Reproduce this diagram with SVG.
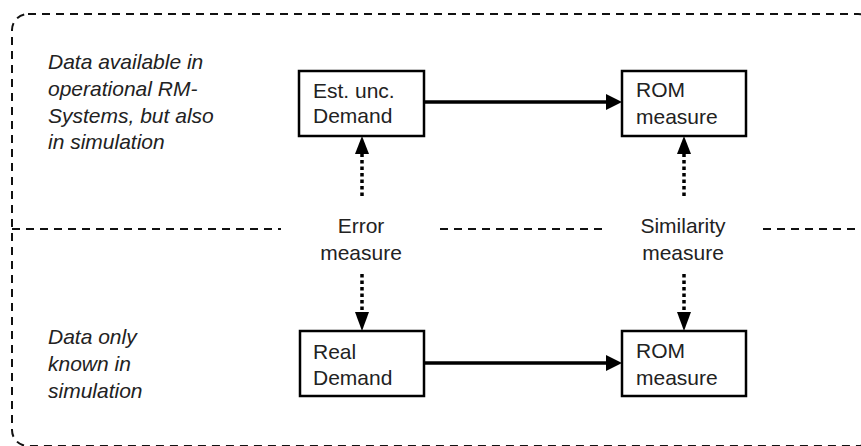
<svg xmlns="http://www.w3.org/2000/svg" width="861" height="446" viewBox="0 0 861 446">
<style>
.frame{fill:none;stroke:#111;stroke-width:2;stroke-dasharray:8 6}
.box{fill:#fff;stroke:#000;stroke-width:2.5}
.t{font-family:"Liberation Sans",Arial,sans-serif;font-size:21px;fill:#222}
.it{font-style:italic}
.solid{stroke:#000;stroke-width:3.5;fill:none}
.dot{stroke:#000;stroke-width:3.5;stroke-dasharray:3.5 3;fill:none}
.head{fill:#000}
</style>
<rect width="861" height="446" fill="#fff"/>
<g id="frame">
<rect class="frame" x="12" y="14" width="862" height="432" rx="16" ry="16"/>
<line class="frame" x1="12" y1="229" x2="281" y2="229"/>
<line class="frame" x1="440" y1="229" x2="604" y2="229"/>
<line class="frame" x1="763" y1="229" x2="861" y2="229"/>
</g>
<g id="region-labels">
<text class="t it" x="48"><tspan x="48" y="69">Data available in</tspan><tspan x="48" y="96">operational RM-</tspan><tspan x="48" y="123">Systems, but also</tspan><tspan x="48" y="149">in simulation</tspan></text>
<text class="t it" x="48"><tspan x="48" y="344">Data only</tspan><tspan x="48" y="371">known in</tspan><tspan x="48" y="398">simulation</tspan></text>
</g>
<g id="connectors">
<line class="solid" x1="424" y1="102" x2="607" y2="102"/>
<polygon class="head" points="622,102 606,94 606,110"/>
<line class="solid" x1="424" y1="363" x2="607" y2="363"/>
<polygon class="head" points="622,363 606,355 606,371"/>
<line class="dot" x1="362" y1="196" x2="362" y2="152"/>
<polygon class="head" points="362,136 355,154 369,154"/>
<line class="dot" x1="684" y1="196" x2="684" y2="152"/>
<polygon class="head" points="684,136 677,154 691,154"/>
<line class="dot" x1="362" y1="274" x2="362" y2="312"/>
<polygon class="head" points="362,331 355,312 369,312"/>
<line class="dot" x1="684" y1="274" x2="684" y2="312"/>
<polygon class="head" points="684,331 677,312 691,312"/>
</g>
<g id="error-measure">
<text class="t" text-anchor="middle"><tspan x="361" y="233">Error</tspan><tspan x="361" y="260">measure</tspan></text>
</g>
<g id="similarity-measure">
<text class="t" text-anchor="middle"><tspan x="683" y="233">Similarity</tspan><tspan x="683" y="260">measure</tspan></text>
</g>
<g id="est-demand">
<rect class="box" x="299" y="71" width="125" height="65"/>
<text class="t"><tspan x="313" y="98">Est. unc.</tspan><tspan x="313" y="123">Demand</tspan></text>
</g>
<g id="rom-top">
<rect class="box" x="622" y="71" width="124" height="65"/>
<text class="t"><tspan x="636" y="97">ROM</tspan><tspan x="636" y="124">measure</tspan></text>
</g>
<g id="real-demand">
<rect class="box" x="300" y="331" width="124" height="65"/>
<text class="t"><tspan x="313" y="359">Real</tspan><tspan x="313" y="385">Demand</tspan></text>
</g>
<g id="rom-bottom">
<rect class="box" x="622" y="331" width="124" height="65"/>
<text class="t"><tspan x="636" y="358">ROM</tspan><tspan x="636" y="385">measure</tspan></text>
</g>
</svg>
